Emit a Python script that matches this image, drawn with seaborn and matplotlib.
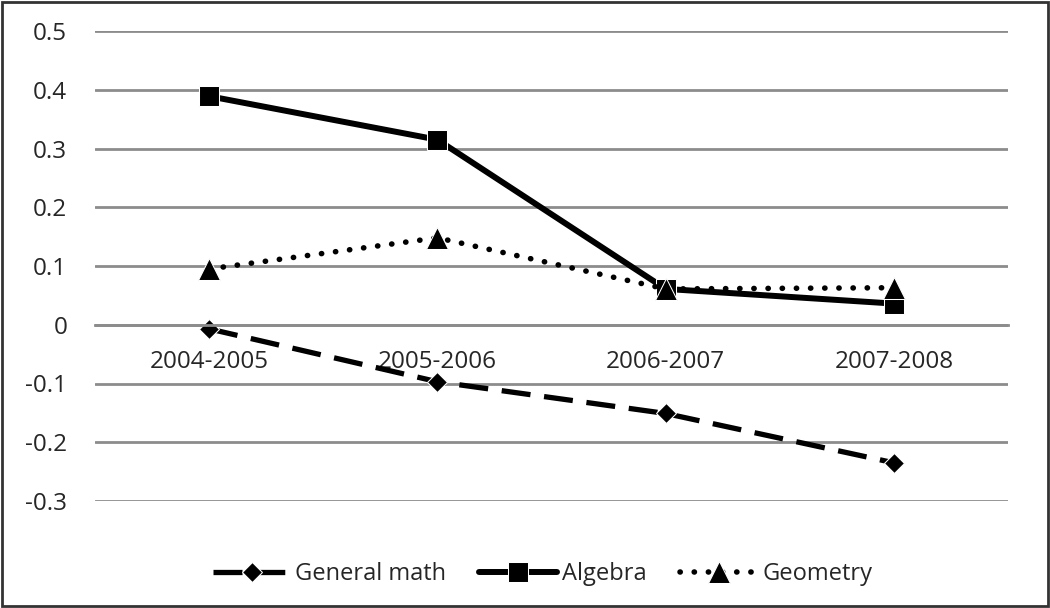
import matplotlib
matplotlib.use("Agg")
import matplotlib.pyplot as plt
import seaborn as sns
import pandas as pd

years = ["2004-2005", "2005-2006", "2006-2007", "2007-2008"]
general_math = [-0.007, -0.097, -0.151, -0.235]
algebra = [0.389, 0.315, 0.061, 0.036]
geometry = [0.095, 0.148, 0.061, 0.063]
yticks = [-0.3, -0.2, -0.1, 0, 0.1, 0.2, 0.3, 0.4, 0.5]

sns.set_style("white")
plt.rcParams['font.family'] = ['Open Sans', 'DejaVu Sans']

fig = plt.figure(figsize=(10.5, 6.08), dpi=100)
ax = fig.add_axes([95/1050, 1-501/608, (1008-95)/1050, (501-31)/608])

df = pd.DataFrame({"year": years, "General math": general_math,
                   "Algebra": algebra, "Geometry": geometry})

sns.lineplot(data=df, x="year", y="General math", ax=ax, color="black",
             marker="D", markersize=10, linewidth=3.8, sort=False,
             label="General math")
ax.lines[-1].set_dashes((5.5, 2.6))
sns.lineplot(data=df, x="year", y="Algebra", ax=ax, color="black",
             marker="s", markersize=15, linewidth=4.3, sort=False,
             label="Algebra")
sns.lineplot(data=df, x="year", y="Geometry", ax=ax, color="black",
             marker="^", markersize=16, linewidth=4.0, sort=False,
             label="Geometry")
ax.lines[-1].set_dashes((0.05, 2.5))
ax.lines[-1].set_dash_capstyle("round")

ax.set_xlim(-0.5, 3.5)
ax.set_ylim(-0.3, 0.5)
ax.set_yticks(yticks)
ax.set_yticklabels([f"{v:g}" for v in yticks])
ax.yaxis.grid(True, color="#8c8c8c", linewidth=2)
ax.set_axisbelow(True)
for s in ["top", "right", "left"]:
    ax.spines[s].set_visible(False)
ax.spines["bottom"].set_position(("data", 0))
ax.spines["bottom"].set_color("#8c8c8c")
ax.spines["bottom"].set_linewidth(2)
ax.tick_params(axis="both", length=0, labelsize=17.5)
ax.tick_params(axis="y", pad=20)
ax.tick_params(axis="x", pad=18)
ax.set_xlabel("")
ax.set_ylabel("")

ax.legend(loc="upper center", bbox_to_anchor=(0.49, -0.085), ncol=3,
          frameon=False, fontsize=17, handlelength=3.3, columnspacing=1.4,
          handletextpad=0.2)

fig.patches.append(plt.Rectangle((0.002, 0.003), 0.996, 0.994,
                                 transform=fig.transFigure, fill=False,
                                 edgecolor="#333333", linewidth=2))
fig.savefig("out.png", dpi=100, facecolor="white")
